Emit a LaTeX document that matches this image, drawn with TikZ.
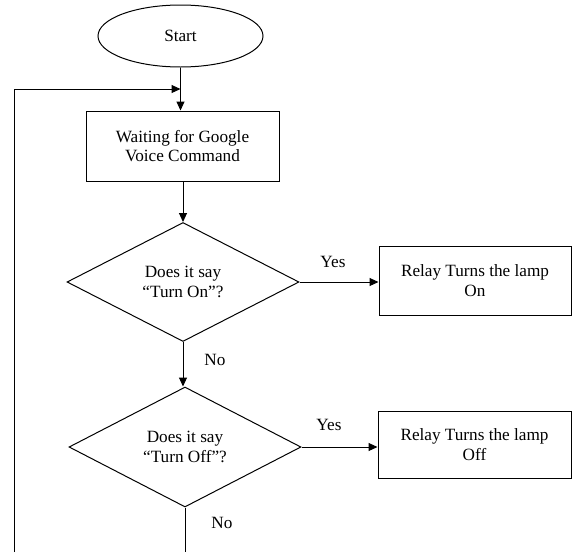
\documentclass[tikz,border=0pt]{standalone}
\usepackage{fontspec}
\setmainfont{Liberation Serif}
\usetikzlibrary{shapes.geometric,arrows.meta}
\begin{document}
\begin{tikzpicture}[x=1pt,y=-1pt,
  every node/.style={font=\fontsize{17.2}{19.5}\selectfont, align=center, inner sep=0pt},
  box/.style={draw, line width=1pt, rectangle},
  decision/.style={draw, line width=1pt, diamond},
  conn/.style={line width=1pt, -{Triangle[length=9pt,width=8pt]}},
  plain/.style={line width=1pt}]
\useasboundingbox (0,0) rectangle (572,552);
\node[draw, line width=1pt, ellipse, minimum width=165pt, minimum height=62pt] (start) at (180.5,36) {Start};
\node[box, minimum width=193pt, minimum height=70pt] (wait) at (182.5,146) {Waiting for Google\\Voice Command};
\node[decision, minimum width=232pt, minimum height=119pt, aspect=1.95] (d1) at (183,282) {Does it say\\“Turn On”?};
\node[decision, minimum width=232pt, minimum height=120pt, aspect=1.93] (d2) at (185,447) {Does it say\\“Turn Off”?};
\node[box, minimum width=192pt, minimum height=69pt] (on) at (475,280.5) {Relay Turns the lamp\\On};
\node[box, minimum width=193pt, minimum height=67pt] (off) at (474.5,444.5) {Relay Turns the lamp\\Off};
\node (yes1) at (333,262) {Yes};
\node (no1) at (215,360) {No};
\node (yes2) at (329,425) {Yes};
\node (no2) at (222,523) {No};
\coordinate (join) at (180.5,89);
\coordinate (loopbot) at (14,552);
\coordinate (endbot) at (185,552);
\draw[conn] (start.south) -- (start.south |- wait.north);
\draw[conn] (loopbot) |- (join);
\draw[conn] (wait.south -| d1.north) -- (d1.north);
\draw[conn] (d1.east) -- (d1.east -| on.west);
\draw[conn] (d1.south) -- (d1.south |- d2.north);
\draw[conn] (d2.east) -- (d2.east -| off.west);
\draw[plain] (d2.south) -- (endbot);
\end{tikzpicture}
\end{document}
